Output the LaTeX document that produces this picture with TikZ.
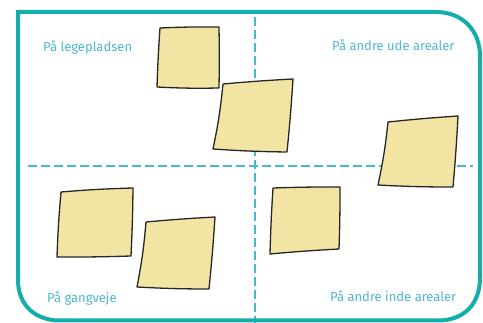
\documentclass[tikz,border=0pt]{standalone}
\usepackage{fontspec}
\setmainfont{Fira Sans}
\definecolor{frameteal}{HTML}{14AEAC}
\definecolor{guideblue}{HTML}{45B8D4}
\definecolor{textblue}{HTML}{4DB5D0}
\definecolor{notefill}{HTML}{F2E5A4}
\begin{document}
\begin{tikzpicture}[x=1pt,y=-1pt,
  frame/.style={draw=frameteal,line width=4pt},
  guide/.style={draw=guideblue,line width=1.8pt,dash pattern=on 9pt off 4pt},
  note/.style={draw=black!85,fill=notefill,line width=1.3pt,line join=round},
  lbl/.style={text=textblue,font=\fontsize{13}{15}\selectfont,anchor=base west,inner sep=0pt}]
\useasboundingbox (0,0) rectangle (483,323);
% guides
\coordinate (vt) at (255,17);
\coordinate (vb) at (255,323);
\coordinate (hl) at (28,166);
\coordinate (hr) at (473,166);
\draw[guide] (vt) -- (vb);
\draw[guide] (hl) -- (hr);
% notes
\draw[note] (160,28) to[bend left=1.5] (219,27) to[bend left=1] (219,88) to[bend left=2] (157,87) to[bend left=1] cycle;
\draw[note] (223,84) to[bend left=1] (293,79) to[bend left=1] (287,152) to[bend left=1.5] (213,149) to[bend right=3] cycle;
\draw[note] (388,122) to[bend left=1] (458,116) to[bend left=1] (453,187) to[bend left=1.5] (378,185) to[bend right=3] cycle;
\draw[note] (61,192) to[bend left=1.5] (133,188) to[bend left=1] (131,256) to[bend left=1] (57,257) to[bend left=1.5] cycle;
\draw[note] (146,222) to[bend left=1] (215,217) to[bend left=1] (209,289) to[bend left=1.5] (137,287) to[bend right=3] cycle;
\draw[note] (273,188) to[bend left=1] (340,187) to[bend left=1] (339,249) to[bend right=1] (270,254) to[bend left=1] cycle;
% labels
\node[lbl] (tl) at (43,52) {På legepladsen};
\node[lbl] (tr) at (332,51) {På andre ude arealer};
\node[lbl] (bl) at (47,303) {På gangveje};
\node[lbl] (br) at (330,302) {På andre inde arealer};
% frame
\draw[frame] (18,12) -- (436,12) .. controls (462,12) and (480,30) .. (480,56)
  -- (480,278) .. controls (480,304) and (464,320.5) .. (438,320.5)
  -- (60,320.5) .. controls (34,320.5) and (18,304) .. (18,280) -- cycle;
\end{tikzpicture}
\end{document}
